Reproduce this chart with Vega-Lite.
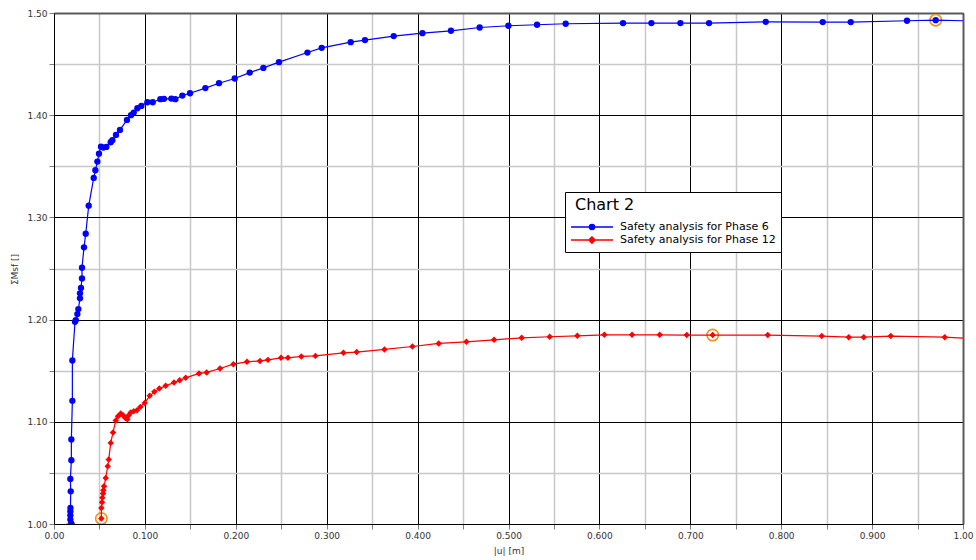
{
  "$schema": "https://vega.github.io/schema/vega-lite/v6.json",
  "width": 909,
  "height": 511,
  "autosize": {"type": "none"},
  "padding": {"left": 54, "top": 13, "right": 13, "bottom": 36},
  "background": "white",
  "config": {
    "view": {"stroke": null},
    "font": "DejaVu Sans",
    "axis": {"labelFont": "DejaVu Sans", "labelFontSize": 9, "labelColor": "#333333", "titleFont": "DejaVu Sans", "titleFontSize": 9, "titleFontWeight": "normal", "titleColor": "#333333", "labelFlush": false, "labelOverlap": false}
  },
  "datasets": {
    "curves": [
      {"s": "Safety analysis for Phase 6", "i": 1, "u": 0.0185, "m": 0.996},
      {"s": "Safety analysis for Phase 6", "i": 2, "u": 0.0191, "m": 1.0004},
      {"s": "Safety analysis for Phase 6", "i": 3, "u": 0.0180, "m": 1.0043},
      {"s": "Safety analysis for Phase 6", "i": 4, "u": 0.0180, "m": 1.0085},
      {"s": "Safety analysis for Phase 6", "i": 5, "u": 0.0180, "m": 1.0124},
      {"s": "Safety analysis for Phase 6", "i": 6, "u": 0.0181, "m": 1.0157},
      {"s": "Safety analysis for Phase 6", "i": 7, "u": 0.0184, "m": 1.0320},
      {"s": "Safety analysis for Phase 6", "i": 8, "u": 0.0180, "m": 1.0441},
      {"s": "Safety analysis for Phase 6", "i": 9, "u": 0.0191, "m": 1.0624},
      {"s": "Safety analysis for Phase 6", "i": 10, "u": 0.0191, "m": 1.0827},
      {"s": "Safety analysis for Phase 6", "i": 11, "u": 0.0202, "m": 1.1205},
      {"s": "Safety analysis for Phase 6", "i": 12, "u": 0.0202, "m": 1.1600},
      {"s": "Safety analysis for Phase 6", "i": 13, "u": 0.0231, "m": 1.1978},
      {"s": "Safety analysis for Phase 6", "i": 14, "u": 0.0240, "m": 1.1995},
      {"s": "Safety analysis for Phase 6", "i": 15, "u": 0.0257, "m": 1.2054},
      {"s": "Safety analysis for Phase 6", "i": 16, "u": 0.0268, "m": 1.2103},
      {"s": "Safety analysis for Phase 6", "i": 17, "u": 0.0286, "m": 1.2208},
      {"s": "Safety analysis for Phase 6", "i": 18, "u": 0.0286, "m": 1.2257},
      {"s": "Safety analysis for Phase 6", "i": 19, "u": 0.0297, "m": 1.2309},
      {"s": "Safety analysis for Phase 6", "i": 20, "u": 0.0308, "m": 1.2403},
      {"s": "Safety analysis for Phase 6", "i": 21, "u": 0.0308, "m": 1.2507},
      {"s": "Safety analysis for Phase 6", "i": 22, "u": 0.0330, "m": 1.2707},
      {"s": "Safety analysis for Phase 6", "i": 23, "u": 0.0349, "m": 1.2840},
      {"s": "Safety analysis for Phase 6", "i": 24, "u": 0.0382, "m": 1.3115},
      {"s": "Safety analysis for Phase 6", "i": 25, "u": 0.0437, "m": 1.3386},
      {"s": "Safety analysis for Phase 6", "i": 26, "u": 0.0455, "m": 1.3461},
      {"s": "Safety analysis for Phase 6", "i": 27, "u": 0.0477, "m": 1.3546},
      {"s": "Safety analysis for Phase 6", "i": 28, "u": 0.0495, "m": 1.3624},
      {"s": "Safety analysis for Phase 6", "i": 29, "u": 0.0517, "m": 1.3692},
      {"s": "Safety analysis for Phase 6", "i": 30, "u": 0.0543, "m": 1.3683},
      {"s": "Safety analysis for Phase 6", "i": 31, "u": 0.0576, "m": 1.3690},
      {"s": "Safety analysis for Phase 6", "i": 32, "u": 0.0624, "m": 1.3735},
      {"s": "Safety analysis for Phase 6", "i": 33, "u": 0.0642, "m": 1.3755},
      {"s": "Safety analysis for Phase 6", "i": 34, "u": 0.0682, "m": 1.3807},
      {"s": "Safety analysis for Phase 6", "i": 35, "u": 0.0726, "m": 1.3856},
      {"s": "Safety analysis for Phase 6", "i": 36, "u": 0.0803, "m": 1.3954},
      {"s": "Safety analysis for Phase 6", "i": 37, "u": 0.0847, "m": 1.4000},
      {"s": "Safety analysis for Phase 6", "i": 38, "u": 0.0877, "m": 1.4026},
      {"s": "Safety analysis for Phase 6", "i": 39, "u": 0.0917, "m": 1.4068},
      {"s": "Safety analysis for Phase 6", "i": 40, "u": 0.0961, "m": 1.4091},
      {"s": "Safety analysis for Phase 6", "i": 41, "u": 0.1027, "m": 1.4127},
      {"s": "Safety analysis for Phase 6", "i": 42, "u": 0.1086, "m": 1.4127},
      {"s": "Safety analysis for Phase 6", "i": 43, "u": 0.1170, "m": 1.4157},
      {"s": "Safety analysis for Phase 6", "i": 44, "u": 0.1210, "m": 1.4160},
      {"s": "Safety analysis for Phase 6", "i": 45, "u": 0.1291, "m": 1.4163},
      {"s": "Safety analysis for Phase 6", "i": 46, "u": 0.1335, "m": 1.4157},
      {"s": "Safety analysis for Phase 6", "i": 47, "u": 0.1412, "m": 1.4192},
      {"s": "Safety analysis for Phase 6", "i": 48, "u": 0.1496, "m": 1.4215},
      {"s": "Safety analysis for Phase 6", "i": 49, "u": 0.1665, "m": 1.4265},
      {"s": "Safety analysis for Phase 6", "i": 50, "u": 0.1815, "m": 1.4313},
      {"s": "Safety analysis for Phase 6", "i": 51, "u": 0.1988, "m": 1.4359},
      {"s": "Safety analysis for Phase 6", "i": 52, "u": 0.2153, "m": 1.4417},
      {"s": "Safety analysis for Phase 6", "i": 53, "u": 0.2303, "m": 1.4463},
      {"s": "Safety analysis for Phase 6", "i": 54, "u": 0.2475, "m": 1.4519},
      {"s": "Safety analysis for Phase 6", "i": 55, "u": 0.2788, "m": 1.4613},
      {"s": "Safety analysis for Phase 6", "i": 56, "u": 0.2945, "m": 1.4659},
      {"s": "Safety analysis for Phase 6", "i": 57, "u": 0.3264, "m": 1.4715},
      {"s": "Safety analysis for Phase 6", "i": 58, "u": 0.3421, "m": 1.4735},
      {"s": "Safety analysis for Phase 6", "i": 59, "u": 0.3737, "m": 1.4774},
      {"s": "Safety analysis for Phase 6", "i": 60, "u": 0.4053, "m": 1.4803},
      {"s": "Safety analysis for Phase 6", "i": 61, "u": 0.4367, "m": 1.4826},
      {"s": "Safety analysis for Phase 6", "i": 62, "u": 0.4683, "m": 1.4858},
      {"s": "Safety analysis for Phase 6", "i": 63, "u": 0.4999, "m": 1.4875},
      {"s": "Safety analysis for Phase 6", "i": 64, "u": 0.5314, "m": 1.4885},
      {"s": "Safety analysis for Phase 6", "i": 65, "u": 0.5629, "m": 1.4895},
      {"s": "Safety analysis for Phase 6", "i": 66, "u": 0.6260, "m": 1.4901},
      {"s": "Safety analysis for Phase 6", "i": 67, "u": 0.6572, "m": 1.4901},
      {"s": "Safety analysis for Phase 6", "i": 68, "u": 0.6891, "m": 1.4901},
      {"s": "Safety analysis for Phase 6", "i": 69, "u": 0.7206, "m": 1.4901},
      {"s": "Safety analysis for Phase 6", "i": 70, "u": 0.7830, "m": 1.4914},
      {"s": "Safety analysis for Phase 6", "i": 71, "u": 0.8457, "m": 1.4911},
      {"s": "Safety analysis for Phase 6", "i": 72, "u": 0.8765, "m": 1.4911},
      {"s": "Safety analysis for Phase 6", "i": 73, "u": 0.9384, "m": 1.4924},
      {"s": "Safety analysis for Phase 6", "i": 74, "u": 0.9700, "m": 1.4930},
      {"s": "Safety analysis for Phase 6", "i": 75, "u": 1.0300, "m": 1.4918},
      {"s": "Safety analysis for Phase 12", "i": 1, "u": 0.0521, "m": 1.0053},
      {"s": "Safety analysis for Phase 12", "i": 2, "u": 0.0521, "m": 1.0157},
      {"s": "Safety analysis for Phase 12", "i": 3, "u": 0.0528, "m": 1.0213},
      {"s": "Safety analysis for Phase 12", "i": 4, "u": 0.0532, "m": 1.0258},
      {"s": "Safety analysis for Phase 12", "i": 5, "u": 0.0539, "m": 1.0298},
      {"s": "Safety analysis for Phase 12", "i": 6, "u": 0.0543, "m": 1.0330},
      {"s": "Safety analysis for Phase 12", "i": 7, "u": 0.0550, "m": 1.0369},
      {"s": "Safety analysis for Phase 12", "i": 8, "u": 0.0569, "m": 1.0450},
      {"s": "Safety analysis for Phase 12", "i": 9, "u": 0.0591, "m": 1.0565},
      {"s": "Safety analysis for Phase 12", "i": 10, "u": 0.0602, "m": 1.0630},
      {"s": "Safety analysis for Phase 12", "i": 11, "u": 0.0624, "m": 1.0793},
      {"s": "Safety analysis for Phase 12", "i": 12, "u": 0.0649, "m": 1.0895},
      {"s": "Safety analysis for Phase 12", "i": 13, "u": 0.0679, "m": 1.1013},
      {"s": "Safety analysis for Phase 12", "i": 14, "u": 0.0704, "m": 1.1055},
      {"s": "Safety analysis for Phase 12", "i": 15, "u": 0.0734, "m": 1.1081},
      {"s": "Safety analysis for Phase 12", "i": 16, "u": 0.0759, "m": 1.1065},
      {"s": "Safety analysis for Phase 12", "i": 17, "u": 0.0785, "m": 1.1038},
      {"s": "Safety analysis for Phase 12", "i": 18, "u": 0.0807, "m": 1.1025},
      {"s": "Safety analysis for Phase 12", "i": 19, "u": 0.0822, "m": 1.1065},
      {"s": "Safety analysis for Phase 12", "i": 20, "u": 0.0844, "m": 1.1091},
      {"s": "Safety analysis for Phase 12", "i": 21, "u": 0.0877, "m": 1.1104},
      {"s": "Safety analysis for Phase 12", "i": 22, "u": 0.0913, "m": 1.1114},
      {"s": "Safety analysis for Phase 12", "i": 23, "u": 0.0950, "m": 1.1146},
      {"s": "Safety analysis for Phase 12", "i": 24, "u": 0.0998, "m": 1.1185},
      {"s": "Safety analysis for Phase 12", "i": 25, "u": 0.1053, "m": 1.1254},
      {"s": "Safety analysis for Phase 12", "i": 26, "u": 0.1104, "m": 1.1293},
      {"s": "Safety analysis for Phase 12", "i": 27, "u": 0.1159, "m": 1.1326},
      {"s": "Safety analysis for Phase 12", "i": 28, "u": 0.1229, "m": 1.1352},
      {"s": "Safety analysis for Phase 12", "i": 29, "u": 0.1320, "m": 1.1385},
      {"s": "Safety analysis for Phase 12", "i": 30, "u": 0.1383, "m": 1.1407},
      {"s": "Safety analysis for Phase 12", "i": 31, "u": 0.1449, "m": 1.1430},
      {"s": "Safety analysis for Phase 12", "i": 32, "u": 0.1595, "m": 1.1473},
      {"s": "Safety analysis for Phase 12", "i": 33, "u": 0.1680, "m": 1.1483},
      {"s": "Safety analysis for Phase 12", "i": 34, "u": 0.1826, "m": 1.1522},
      {"s": "Safety analysis for Phase 12", "i": 35, "u": 0.1973, "m": 1.1564},
      {"s": "Safety analysis for Phase 12", "i": 36, "u": 0.2123, "m": 1.1587},
      {"s": "Safety analysis for Phase 12", "i": 37, "u": 0.2266, "m": 1.1596},
      {"s": "Safety analysis for Phase 12", "i": 38, "u": 0.2354, "m": 1.1606},
      {"s": "Safety analysis for Phase 12", "i": 39, "u": 0.2497, "m": 1.1626},
      {"s": "Safety analysis for Phase 12", "i": 40, "u": 0.2574, "m": 1.1626},
      {"s": "Safety analysis for Phase 12", "i": 41, "u": 0.2721, "m": 1.1640},
      {"s": "Safety analysis for Phase 12", "i": 42, "u": 0.2876, "m": 1.1645},
      {"s": "Safety analysis for Phase 12", "i": 43, "u": 0.3184, "m": 1.1675},
      {"s": "Safety analysis for Phase 12", "i": 44, "u": 0.3330, "m": 1.1682},
      {"s": "Safety analysis for Phase 12", "i": 45, "u": 0.3635, "m": 1.1708},
      {"s": "Safety analysis for Phase 12", "i": 46, "u": 0.3943, "m": 1.1737},
      {"s": "Safety analysis for Phase 12", "i": 47, "u": 0.4232, "m": 1.1767},
      {"s": "Safety analysis for Phase 12", "i": 48, "u": 0.4537, "m": 1.1783},
      {"s": "Safety analysis for Phase 12", "i": 49, "u": 0.4841, "m": 1.1802},
      {"s": "Safety analysis for Phase 12", "i": 50, "u": 0.5145, "m": 1.1822},
      {"s": "Safety analysis for Phase 12", "i": 51, "u": 0.5453, "m": 1.1832},
      {"s": "Safety analysis for Phase 12", "i": 52, "u": 0.5758, "m": 1.1841},
      {"s": "Safety analysis for Phase 12", "i": 53, "u": 0.6055, "m": 1.1851},
      {"s": "Safety analysis for Phase 12", "i": 54, "u": 0.6359, "m": 1.1851},
      {"s": "Safety analysis for Phase 12", "i": 55, "u": 0.6663, "m": 1.1851},
      {"s": "Safety analysis for Phase 12", "i": 56, "u": 0.6961, "m": 1.1849},
      {"s": "Safety analysis for Phase 12", "i": 57, "u": 0.7246, "m": 1.1849},
      {"s": "Safety analysis for Phase 12", "i": 58, "u": 0.7852, "m": 1.1849},
      {"s": "Safety analysis for Phase 12", "i": 59, "u": 0.8446, "m": 1.1839},
      {"s": "Safety analysis for Phase 12", "i": 60, "u": 0.8743, "m": 1.1828},
      {"s": "Safety analysis for Phase 12", "i": 61, "u": 0.8908, "m": 1.1828},
      {"s": "Safety analysis for Phase 12", "i": 62, "u": 0.9205, "m": 1.1839},
      {"s": "Safety analysis for Phase 12", "i": 63, "u": 0.9799, "m": 1.1828},
      {"s": "Safety analysis for Phase 12", "i": 64, "u": 1.0300, "m": 1.1805}
    ],
    "highlights": [
      {"u": 0.0185, "m": 0.996},
      {"u": 0.0521, "m": 1.0053},
      {"u": 0.7246, "m": 1.1849},
      {"u": 0.9700, "m": 1.4930}
    ]
  },
  "layer": [
    {
      "data": {"name": "highlights"},
      "mark": {"type": "point", "filled": false, "stroke": "#f29111", "strokeWidth": 1.6, "size": 130, "opacity": 1, "clip": true},
      "encoding": {
        "x": {"field": "u", "type": "quantitative", "scale": {"domain": [0, 1], "nice": false, "zero": false},
          "axis": {"orient": "top", "title": null, "labels": false, "ticks": false, "grid": false, "domain": true, "domainColor": "#5a5a5a", "domainWidth": 2}},
        "y": {"field": "m", "type": "quantitative", "scale": {"domain": [1, 1.5], "nice": false, "zero": false},
          "axis": {"orient": "right", "title": null, "labels": false, "ticks": false, "grid": false, "domain": true, "domainColor": "#5a5a5a", "domainWidth": 2}}
      }
    },
    {
      "data": {"name": "curves"},
      "mark": {"type": "line", "strokeWidth": 1.2, "clip": true},
      "encoding": {
        "x": {"field": "u", "type": "quantitative",
          "axis": {"orient": "bottom", "title": "|u| [m]", "titlePadding": 6,
            "values": [0, 0.05, 0.1, 0.15, 0.2, 0.25, 0.3, 0.35, 0.4, 0.45, 0.5, 0.55, 0.6, 0.65, 0.7, 0.75, 0.8, 0.85, 0.9, 0.95, 1],
            "labelExpr": "round(datum.value*20) % 2 == 1 ? '' : (datum.value == 0 ? '0.00' : (datum.value == 1 ? '1.00' : format(datum.value, '.3f')))",
            "grid": true,
            "gridColor": {"condition": {"test": "round(datum.value*20) % 2 == 1", "value": "#c8c8c8"}, "value": "#000000"},
            "gridWidth": {"condition": {"test": "round(datum.value*20) % 2 == 1", "value": 1.5}, "value": 1},
            "domainColor": "#000000", "domainWidth": 1, "tickColor": "#808080", "tickSize": 5, "labelPadding": 2}},
        "y": {"field": "m", "type": "quantitative",
          "axis": {"orient": "left", "title": "ΣMsf []", "titleX": -35, "titleY": 256,
            "values": [1, 1.05, 1.1, 1.15, 1.2, 1.25, 1.3, 1.35, 1.4, 1.45, 1.5],
            "labelExpr": "round(datum.value*20) % 2 == 1 ? '' : format(datum.value, '.2f')",
            "grid": true,
            "gridColor": {"condition": {"test": "round(datum.value*20) % 2 == 1", "value": "#c8c8c8"}, "value": "#000000"},
            "gridWidth": {"condition": {"test": "round(datum.value*20) % 2 == 1", "value": 1.5}, "value": 1},
            "domainColor": "#000000", "domainWidth": 1, "tickColor": "#808080", "tickSize": 5, "labelPadding": 2}},
        "color": {"field": "s", "type": "nominal",
          "scale": {"domain": ["Safety analysis for Phase 6", "Safety analysis for Phase 12"], "range": ["#0000ff", "#ff0000"]},
          "legend": {
            "orient": "none", "legendX": 511, "legendY": 179,
            "title": "Chart 2", "titleFont": "DejaVu Sans", "titleFontSize": 16, "titleFontWeight": "normal", "titleColor": "#000000", "titlePadding": 8,
            "labelFont": "DejaVu Sans", "labelFontSize": 11, "labelColor": "#000000",
            "symbolType": "M-4.2,0H4.2M0.5,0A0.5,0.5,0,1,1,-0.5,0A0.5,0.5,0,1,1,0.5,0Z",
            "symbolSize": 100, "symbolStrokeWidth": 1.6, "symbolOffset": 16, "labelOffset": 22,
            "padding": 5, "strokeColor": "#000000", "fillColor": "#ffffff", "rowPadding": 0,
            "encode": {
              "title": {"update": {"dx": {"value": 5}}},
              "symbols": {"update": {
                "shape": {"signal": "datum.value === 'Safety analysis for Phase 6' ? 'M-4.2,0H4.2M0.5,0A0.5,0.5,0,1,1,-0.5,0A0.5,0.5,0,1,1,0.5,0Z' : 'M-4.2,0H4.2M0,-0.6L0.6,0L0,0.6L-0.6,0Z'"},
                "fill": {"scale": "color", "field": "value"},
                "stroke": {"scale": "color", "field": "value"},
                "opacity": {"value": 1}
              }}
            }
          }},
        "order": {"field": "i", "type": "quantitative"}
      }
    },
    {
      "data": {"name": "curves"},
      "transform": [{"filter": "datum.s === 'Safety analysis for Phase 6'"}],
      "mark": {"type": "point", "filled": true, "shape": "circle", "color": "#0000ff", "size": 40, "opacity": 1, "clip": true},
      "encoding": {
        "x": {"field": "u", "type": "quantitative", "axis": null},
        "y": {"field": "m", "type": "quantitative", "axis": null}
      }
    },
    {
      "data": {"name": "curves"},
      "transform": [{"filter": "datum.s === 'Safety analysis for Phase 12'"}],
      "mark": {"type": "point", "filled": true, "shape": "diamond", "color": "#ff0000", "size": 42, "opacity": 1, "clip": true},
      "encoding": {
        "x": {"field": "u", "type": "quantitative", "axis": null},
        "y": {"field": "m", "type": "quantitative", "axis": null}
      }
    }
  ],
  "resolve": {"axis": {"x": "independent", "y": "independent"}}
}
